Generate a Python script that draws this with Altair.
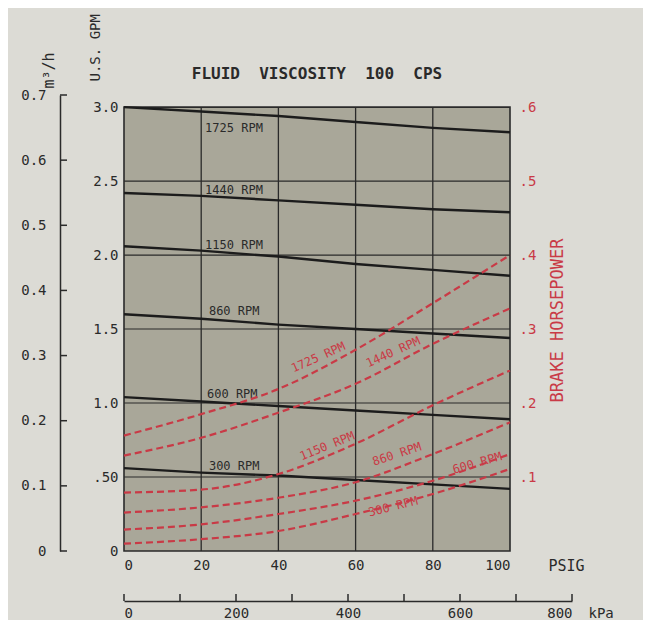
import altair as alt
import pandas as pd

# ---------------- data ----------------
psi = [0, 20, 40, 60, 80, 100]
rpm = ["1725", "1440", "1150", "860", "600", "300"]

# capacity (U.S. GPM) vs pressure, solid black lines
gpm = {
    "1725": [3.00, 2.97, 2.94, 2.90, 2.86, 2.83],
    "1440": [2.42, 2.40, 2.37, 2.34, 2.31, 2.29],
    "1150": [2.06, 2.03, 1.99, 1.94, 1.90, 1.86],
    "860":  [1.60, 1.57, 1.53, 1.50, 1.47, 1.44],
    "600":  [1.04, 1.01, 0.98, 0.95, 0.92, 0.89],
    "300":  [0.56, 0.53, 0.51, 0.48, 0.45, 0.42],
}
# brake horsepower vs pressure, red dashed curves
hp = {
    "1725": [0.156, 0.185, 0.219, 0.272, 0.335, 0.400],
    "1440": [0.129, 0.153, 0.187, 0.226, 0.280, 0.328],
    "1150": [0.079, 0.083, 0.104, 0.145, 0.197, 0.244],
    "860":  [0.052, 0.059, 0.072, 0.093, 0.131, 0.174],
    "600":  [0.029, 0.036, 0.050, 0.068, 0.095, 0.131],
    "300":  [0.010, 0.016, 0.027, 0.050, 0.077, 0.111],
}

# label anchors
flow_lab_psi = [21, 21, 21, 22, 21.5, 22]
flow_lab_gpm = [2.857, 2.44, 2.065, 1.62, 1.063, 0.575]
hp_lab_psi = [50.3, 69.7, 52.6, 70.7, 91.5, 69.7]
hp_lab_hp = [0.262, 0.269, 0.142, 0.131, 0.119, 0.060]
hp_lab_ang = [336, 336, 338, 342, 344, 346]

psi_ticks = [0, 20, 40, 60, 80, 100]
grid_psi = [20, 40, 60, 80]
gpm_ticks = [0, 0.5, 1.0, 1.5, 2.0, 2.5, 3.0]
grid_gpm = [0.5, 1.0, 1.5, 2.0, 2.5]
hp_ticks = [0.1, 0.2, 0.3, 0.4, 0.5, 0.6]
m3h_ticks = [0, 0.1, 0.2, 0.3, 0.4, 0.5, 0.6, 0.7]
kpa_ticks = [0, 100, 200, 300, 400, 500, 600, 700, 800]
kpa_labels = [0, 200, 400, 600, 800]

# ---------------- tables ----------------
flow_df = pd.DataFrame([{"psi": p, "gpm": g, "rpm": r}
                        for r in rpm for p, g in zip(psi, gpm[r])])
hp_df = pd.DataFrame([{"psi": p, "hp": h, "rpm": r}
                      for r in rpm for p, h in zip(psi, hp[r])])
flow_lab = pd.DataFrame({"psi": flow_lab_psi, "gpm": flow_lab_gpm,
                         "txt": [r + "\u00a0RPM" for r in rpm]})
hp_lab = pd.DataFrame({"psi": hp_lab_psi, "hp": hp_lab_hp, "ang": hp_lab_ang,
                       "txt": [r + "\u00a0RPM" for r in rpm]})
frame_df = pd.DataFrame({"psi": [0], "psi2": [100], "gpm": [0], "gpm2": [3.0]})
vgrid = pd.DataFrame({"psi": grid_psi, "gpm": [0] * 4, "gpm2": [3.0] * 4})
hgrid = pd.DataFrame({"gpm": grid_gpm, "psi": [0] * 5, "psi2": [100] * 5})
m3_df = pd.DataFrame({"m3": m3h_ticks})
kpa_df = pd.DataFrame({"kpa": kpa_ticks})

GPM_TOP = 0.7 / 0.2271247
W, H = 386, 456
MONO = "DejaVu Sans Mono"
INK = "#2a2a2a"
RED = "#c93a46"
NB = "\u00a0"

xs = alt.Scale(domain=[0, 100], nice=False, zero=True)
x_axis = alt.Axis(values=psi_ticks, domain=False, ticks=False, tickSize=0,
                  grid=False, labelPadding=7, labelFont=MONO, labelFontSize=14,
                  labelColor=INK, title="PSIG", titleFont=MONO, titleFontSize=15,
                  titleFontWeight="normal", titleColor=INK, titleAlign="left",
                  titleBaseline="top", titleX=W + 38, titleY=7)
X = alt.X("psi:Q", scale=xs, axis=x_axis)

ys = alt.Scale(domain=[0, GPM_TOP], nice=False, zero=True)
y_axis = alt.Axis(values=gpm_ticks, domain=False, ticks=False, tickSize=0, grid=False,
                  labelPadding=6, labelFont=MONO, labelFontSize=14, labelColor=INK,
                  labelExpr="datum.value == 0 ? '0' : datum.value == 0.5 ? '.50' : format(datum.value, '.1f')",
                  title="U.S." + NB + "GPM", titleFont=MONO, titleFontSize=14,
                  titleFontWeight="normal", titleColor=INK, titleAngle=270,
                  titleAlign="left", titleBaseline="middle", titleX=-29, titleY=-14)
Y = alt.Y("gpm:Q", scale=ys, axis=y_axis)

bg = alt.Chart(frame_df).mark_rect(fill="#a9a799", stroke=INK, strokeWidth=1.6).encode(
    x=X, x2="psi2:Q", y=Y, y2="gpm2:Q")
vg = alt.Chart(vgrid).mark_rule(color=INK, strokeWidth=1.3).encode(x=X, y=Y, y2="gpm2:Q")
hg = alt.Chart(hgrid).mark_rule(color=INK, strokeWidth=1.1).encode(y=Y, x=X, x2="psi2:Q")
flow_lines = alt.Chart(flow_df).mark_line(color="#1c1c1c", strokeWidth=2.4).encode(
    x=X, y=Y, detail="rpm:N")
flow_text = alt.Chart(flow_lab).mark_text(
    align="left", baseline="middle", font=MONO, fontSize=12, color=INK).encode(
    x=X, y=Y, text="txt:N")
title = alt.Chart(pd.DataFrame({"psi": [50], "t": ["FLUID" + NB * 2 + "VISCOSITY" + NB * 2 + "100" + NB * 2 + "CPS"]})).mark_text(
    font=MONO, fontSize=16, fontWeight="bold", color=INK, baseline="middle").encode(
    x=X, y=alt.value(-21), text="t:N")

layer_flow = alt.layer(bg, vg, hg, flow_lines, flow_text, title)

hs = alt.Scale(domain=[0, GPM_TOP / 5], nice=False, zero=True)
hp_axis = alt.Axis(orient="right", values=hp_ticks, domain=False, ticks=False, tickSize=0,
                   grid=False, labelPadding=9, labelFont=MONO, labelFontSize=14,
                   labelColor=RED, labelExpr="'.' + format(datum.value * 10, '.0f')",
                   title="BRAKE" + NB + "HORSEPOWER", titleFont=MONO, titleFontSize=17,
                   titleFontWeight="normal", titleColor=RED, titleAngle=270,
                   titleBaseline="middle", titleX=47, titleY=H / 2 - 3)
HY = alt.Y("hp:Q", scale=hs, axis=hp_axis)
hp_lines = alt.Chart(hp_df).mark_line(color=RED, strokeWidth=2.2, strokeDash=[7, 4],
                                      interpolate="monotone").encode(
    x=X, y=HY, detail="rpm:N")
hp_text = alt.Chart(hp_lab).mark_text(font=MONO, fontSize=12, color=RED,
                                      baseline="middle", align="center").encode(
    x=X, y=HY, text="txt:N", angle=alt.Angle("ang:Q", scale=None))
layer_hp = alt.layer(hp_lines, hp_text)

ms = alt.Scale(domain=[0, 0.7], nice=False, zero=True)
m_axis = alt.Axis(orient="left", offset=64, values=m3h_ticks, domain=True,
                  domainColor=INK, domainWidth=1.5, ticks=False, tickSize=0, grid=False,
                  labelPadding=14, labelFont=MONO, labelFontSize=14, labelColor=INK,
                  labelExpr="datum.value == 0 ? '0' : format(datum.value, '.1f')",
                  title="m³/h", titleFont=MONO, titleFontSize=15,
                  titleFontWeight="normal", titleColor=INK, titleAngle=270,
                  titleAlign="left", titleBaseline="middle", titleX=-12, titleY=-7)
m_ticks = alt.Chart(m3_df).mark_rule(color=INK, strokeWidth=1.5).encode(
    y=alt.Y("m3:Q", scale=ms, axis=m_axis), x=alt.value(-64), x2=alt.value(-57))

top = alt.layer(layer_flow, layer_hp, m_ticks).resolve_scale(y="independent").properties(
    width=W, height=H)

KW = round(W * 800 / (100 * 6.894757))
kpa = alt.Chart(kpa_df).mark_rule(color=INK, strokeWidth=1.5).encode(
    x=alt.X("kpa:Q", scale=alt.Scale(domain=[0, 800], nice=False, zero=True),
            axis=alt.Axis(values=kpa_labels, domain=True, domainColor=INK, domainWidth=1.5,
                          ticks=False, tickSize=0, grid=False, labelPadding=5,
                          labelFont=MONO, labelFontSize=14, labelColor=INK,
                          title="kPa", titleFont=MONO, titleFontSize=14,
                          titleFontWeight="normal", titleColor=INK, titleAlign="left",
                          titleBaseline="top", titleX=KW + 16, titleY=5)),
    y=alt.value(0), y2=alt.value(7)).properties(width=KW, height=7)

chart = alt.vconcat(top, kpa, spacing=20).properties(
    background="#dcdbd5", padding={"left": 12, "top": 5, "right": 29, "bottom": 0}
).configure_view(stroke=None)

chart.save("out.html", embed_options={"renderer": "svg", "actions": False})
